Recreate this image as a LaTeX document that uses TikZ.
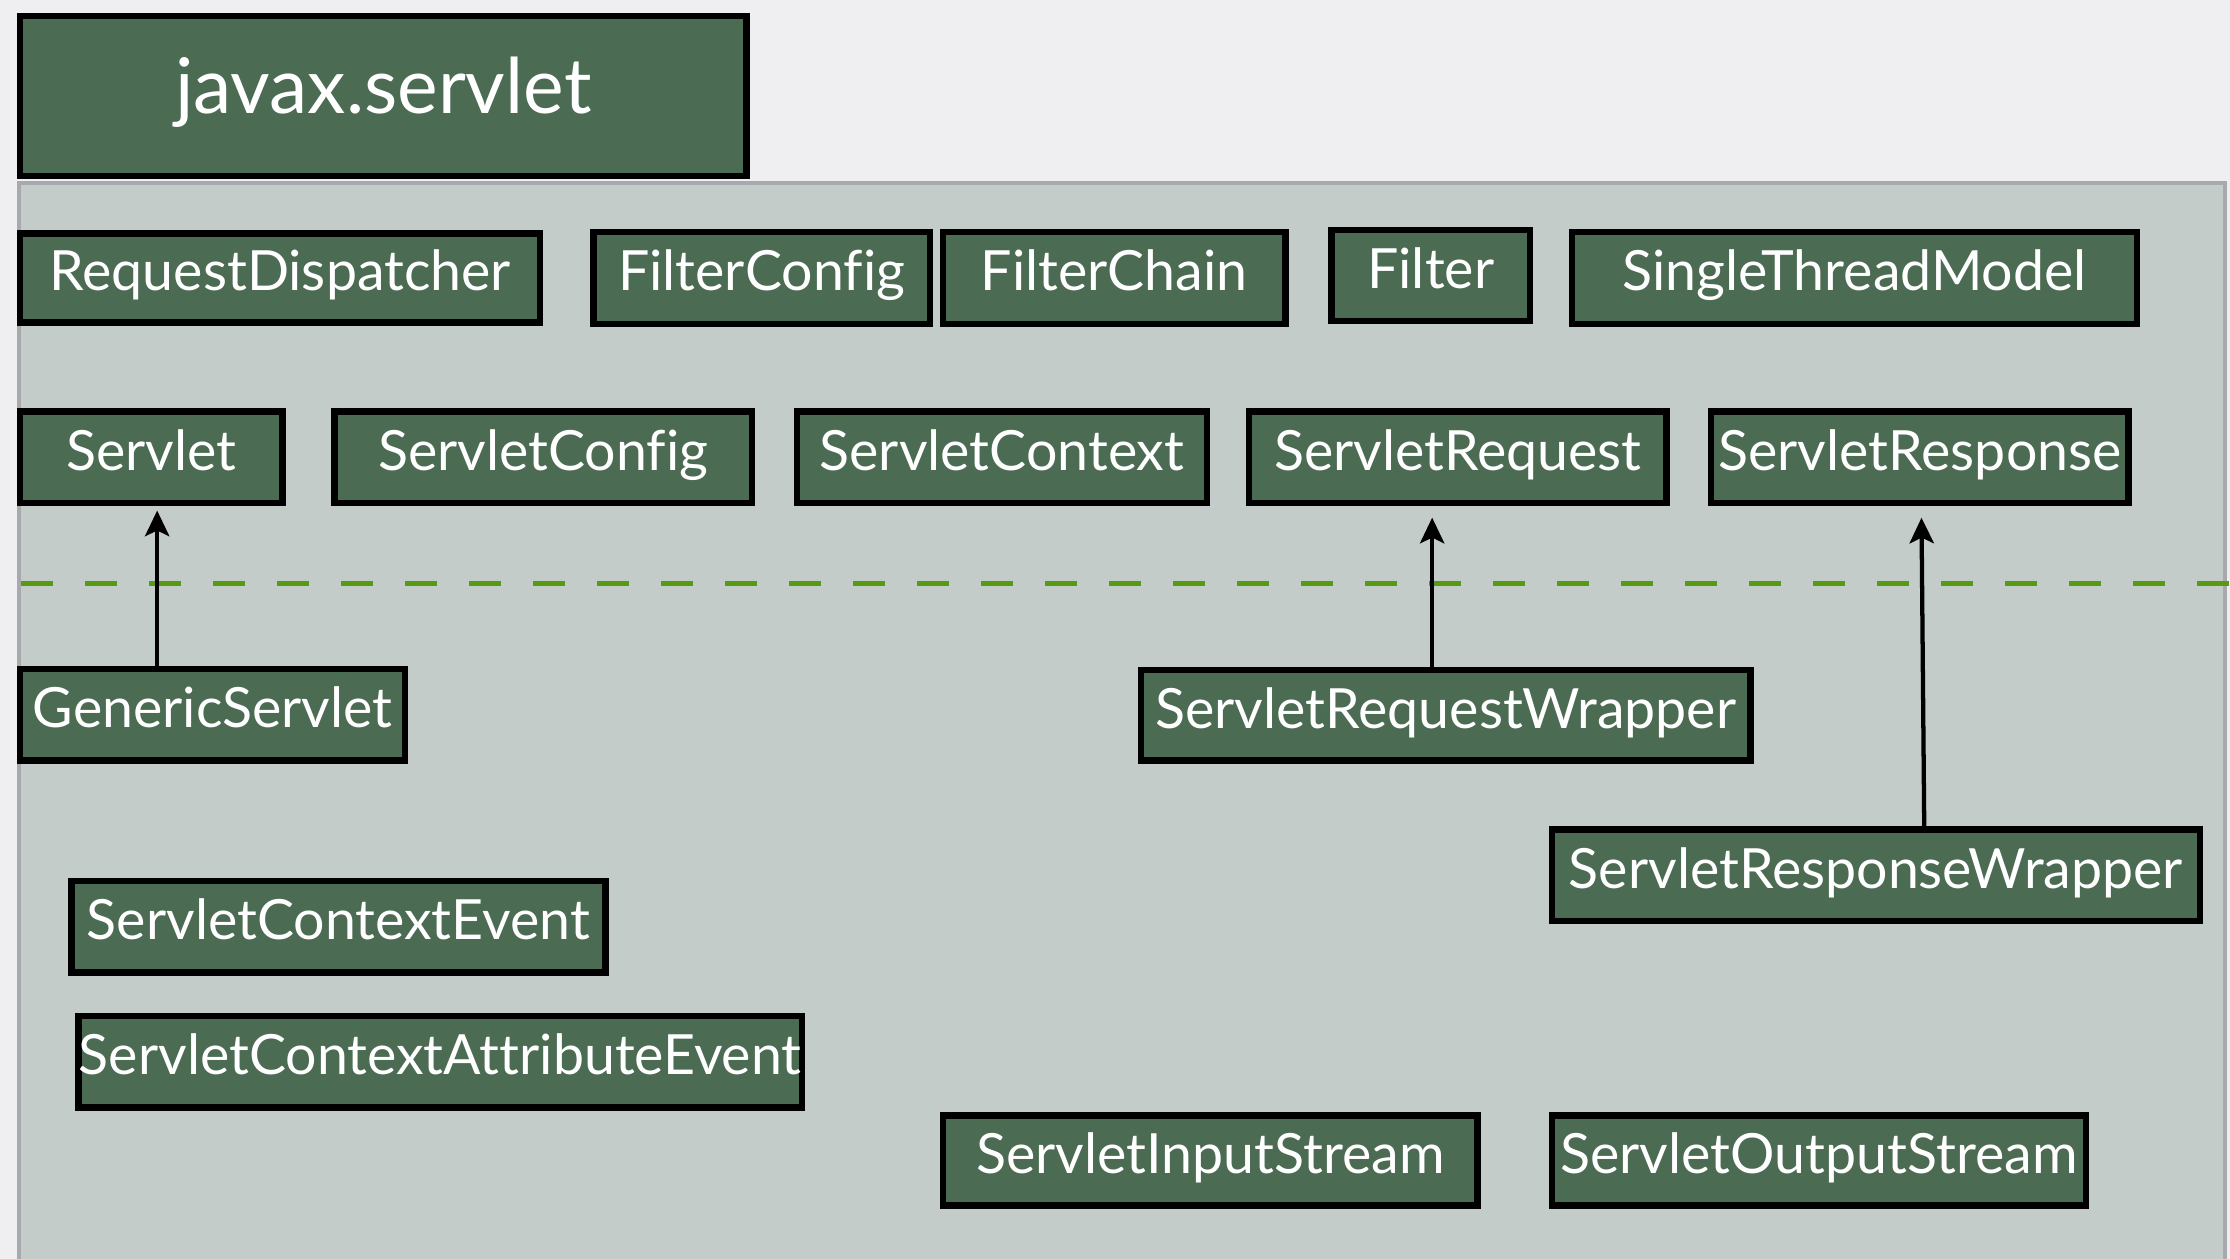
\documentclass[tikz,border=0pt]{standalone}
\usepackage{fontspec}
\setmainfont{Lato}
\newfontfamily\diagfont[Ligatures=NoCommon]{Lato}
\usetikzlibrary{arrows.meta}
\definecolor{pagebg}{HTML}{EFEFF1}
\definecolor{panelbg}{HTML}{C3CCC8}
\definecolor{panelrule}{HTML}{A8A9AC}
\definecolor{boxgreen}{HTML}{4B6B53}
\definecolor{dashgreen}{HTML}{5A9A12}
\newcommand\classbox[6]{%
  \node[cls, minimum width={#4-#2-4.5}, minimum height={#5-#3-4.5}] (#1) at ({(#2+#4)/2},{(#3+#5)/2}) {#6};}
\begin{document}
\begin{tikzpicture}[x=1pt,y=-1pt,
  cls/.style={draw=black, line width=4.5pt, fill=boxgreen, text=white,
    font=\diagfont\fontsize{39}{39}\selectfont, inner sep=0pt,
    text height=27pt, text depth=9pt},
  pkgbox/.style={cls, line width=4.5pt, font=\diagfont\fontsize{54}{54}\selectfont,
    text height=38pt, text depth=13pt},
  inherit/.style={draw=black, line width=3pt,
    -{Stealth[length=18pt, width=17pt, inset=4pt]}},
  separator/.style={draw=dashgreen, line width=3.5pt, dash pattern=on 22.5pt off 22.5pt}]
\useasboundingbox (0,0) rectangle (1568,885);
\fill[pagebg] (0,0) rectangle (1568,885);
% package panel
\fill[panelbg] (12,127) rectangle (1566,886);
\draw[panelrule, line width=3pt] (13.5,886) -- (13.5,128.5) -- (1564.5,128.5) -- (1564.5,886);
% separator
\draw[separator] (15,410) -- (1568,410);
% package title
\node[pkgbox, minimum width={527-12-4.5}, minimum height={126-9-4.5}] (pkg) at ({(12+527)/2},{(9+126)/2}) {javax.servlet};
% row 1
\classbox{rd}{12}{162}{382}{229}{RequestDispatcher}
\classbox{fconf}{415}{161}{656}{230}{FilterConfig}
\classbox{fchain}{661}{161}{906}{230}{FilterChain}
\classbox{filter}{934}{159.5}{1078}{228}{Filter}
\classbox{stm}{1103}{161}{1505}{230}{SingleThreadModel}
% row 2
\classbox{servlet}{12}{287}{201}{356}{Servlet}
\classbox{sconf}{233}{287}{531}{356}{ServletConfig}
\classbox{sctx}{558}{287}{851}{356}{ServletContext}
\classbox{sreq}{876}{287}{1174}{356}{ServletRequest}
\classbox{sresp}{1201}{287}{1499}{356}{ServletResponse}
% implementations
\classbox{gs}{12}{468}{287}{537}{GenericServlet}
\classbox{sreqw}{800}{469}{1233}{537}{ServletRequestWrapper}
\classbox{srespw}{1089}{581}{1549}{650}{ServletResponseWrapper}
\classbox{sce}{48}{617}{428}{686}{ServletContextEvent}
\classbox{scae}{53}{712}{566}{781}{ServletContextAttributeEvent}
\classbox{sis}{661}{782}{1041}{850}{ServletInputStream}
\classbox{sos}{1089}{782}{1469}{850}{ServletOutputStream}
% inheritance arrows
\draw[inherit, shorten >=3pt] ([xshift=4pt]servlet.south |- gs.north) -- ([xshift=4pt]servlet.south);
\draw[inherit, shorten >=8pt] ([xshift=-18pt]sreq.south |- sreqw.north) -- ([xshift=-18pt]sreq.south);
\draw[inherit, shorten >=8pt] ([xshift=3pt]sresp.south |- srespw.north) -- ([xshift=1pt]sresp.south);
\end{tikzpicture}
\end{document}
